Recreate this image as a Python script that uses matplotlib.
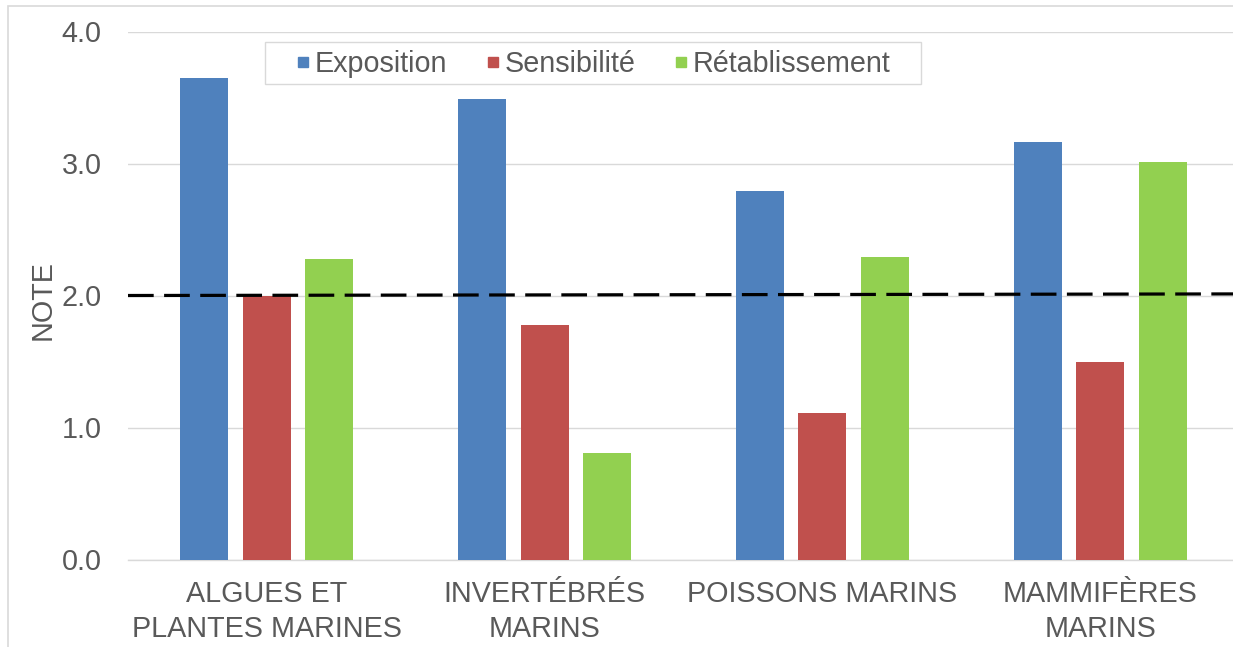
import matplotlib
matplotlib.use("Agg")
import matplotlib.pyplot as plt
from matplotlib.lines import Line2D
from matplotlib.patches import Rectangle
import numpy as np

plt.rcParams['font.family'] = ['Liberation Sans', 'DejaVu Sans']
plt.rcParams['lines.scale_dashes'] = False

# Data
categories = ["ALGUES ET\nPLANTES MARINES", "INVERTÉBRÉS\nMARINS",
              "POISSONS MARINS", "MAMMIFÈRES\nMARINS"]
series_names = ["Exposition", "Sensibilité", "Rétablissement"]
exposition = [3.65, 3.49, 2.79, 3.16]
sensibilite = [2.00, 1.78, 1.11, 1.50]
retablissement = [2.28, 0.81, 2.29, 3.01]
threshold_line = [2.0, 2.012]
y_ticks = [0.0, 1.0, 2.0, 3.0, 4.0]

colors = ["#4F81BD", "#C0504D", "#92D050"]
text_color = "#595959"
grid_color = "#D9D9D9"
fs = 20.7

W, H = 1233, 647
fig = plt.figure(figsize=(W / 100, H / 100), dpi=100)
fig.patch.set_facecolor("white")

# outer chart border
fig.add_artist(Rectangle((8 / W, -0.1), 1.2, (H - 5.5) / H + 0.1,
                         transform=fig.transFigure, fill=False,
                         ec=grid_color, lw=1.2))

AX_L, AX_B, AX_W, AX_H = 128, 87.5, 1111, 528
ax = fig.add_axes([AX_L / W, AX_B / H, AX_W / W, AX_H / H])

x = np.arange(len(categories))
width = 0.173
step = 0.225
for i, (vals, c, name) in enumerate(zip([exposition, sensibilite, retablissement],
                                        colors, series_names)):
    ax.bar(x + (i - 1) * step, vals, width, color=c, label=name, zorder=3)

ax.set_xlim(-0.5, len(categories) - 0.5)
ax.set_ylim(0, 4)
ax.set_yticks(y_ticks)
ax.set_yticklabels([f"{v:.1f}" for v in y_ticks])
ax.set_xticks(x)
ax.set_xticklabels(categories, linespacing=1.32)

ax.tick_params(axis='both', length=0, labelsize=fs, colors=text_color)
ax.tick_params(axis='y', pad=19)
ax.tick_params(axis='x', pad=15)

ax.grid(axis='y', color=grid_color, lw=1.0, zorder=0)
ax.set_axisbelow(True)
for s in ["top", "right", "left"]:
    ax.spines[s].set_visible(False)
ax.spines["bottom"].set_color(grid_color)
ax.spines["bottom"].set_linewidth(1.0)

# threshold line
ax.plot([-0.5, len(categories) - 0.5], threshold_line, color="black",
        lw=2.3, linestyle=(0, (18.5, 7.5)), zorder=4, clip_on=False)

fig.text(43 / W, 1 - 300 / H, "NOTE", rotation=90, ha="center", va="center",
         fontsize=fs, color=text_color)

# legend box
fig.add_artist(Rectangle((265 / W, 1 - 84 / H), (921 - 265) / W, 42 / H,
                         transform=fig.transFigure, fill=True, fc="white",
                         ec=grid_color, lw=1.0, zorder=5))
handles = [Line2D([], [], marker='s', linestyle='none', markersize=7.5,
                  markerfacecolor=c, markeredgecolor=c) for c in colors]
leg = fig.legend(handles, series_names, ncol=3, loc="center",
                 bbox_to_anchor=(594 / W, 1 - 64 / H),
                 fontsize=fs, frameon=False,
                 handlelength=0.4, handletextpad=0.2, columnspacing=1.4,
                 borderpad=0.0, borderaxespad=0)
leg.set_zorder(6)
for t in leg.get_texts():
    t.set_color(text_color)

fig.savefig("out.png", dpi=100, facecolor="white")
